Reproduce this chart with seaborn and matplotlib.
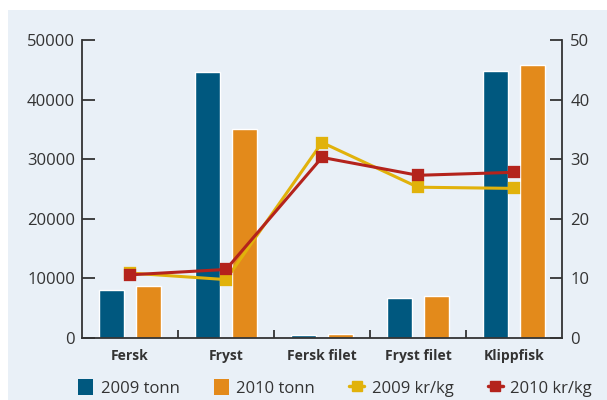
import matplotlib
matplotlib.use("Agg")
import matplotlib.pyplot as plt
from matplotlib.patches import Rectangle, Patch
from matplotlib.lines import Line2D
import seaborn as sns
import pandas as pd
import numpy as np

categories = ["Fersk", "Fryst", "Fersk filet", "Fryst filet", "Klippfisk"]
tonn_2009 = [8100, 44600, 500, 6700, 44800]
tonn_2010 = [8800, 35100, 700, 7100, 45800]
krkg_2009 = [10.9, 9.8, 32.8, 25.3, 25.1]
krkg_2010 = [10.6, 11.5, 30.3, 27.3, 27.8]
left_ticks = [0, 10000, 20000, 30000, 40000, 50000]
right_ticks = [0, 10, 20, 30, 40, 50]
series_labels = ["2009 tonn", "2010 tonn", "2009 kr/kg", "2010 kr/kg"]

BLUE = "#00587f"
ORANGE = "#e38a1b"
YELLOW = "#e1b20b"
RED = "#b4231c"
BG = "#e9f0f7"
TXT = "#333333"

sns.set_theme(style="white")
plt.rcParams["font.family"] = ["Open Sans", "DejaVu Sans"]
plt.rcParams["text.color"] = TXT
plt.rcParams["xtick.color"] = TXT
plt.rcParams["ytick.color"] = TXT

W, H = 607, 400
fig = plt.figure(figsize=(W / 100, H / 100), dpi=100, facecolor="white")
fig.patches.append(Rectangle((8 / W, 0), 1 - 8 / W, 1 - 10 / H, transform=fig.transFigure,
                             facecolor=BG, edgecolor="none", zorder=-10))

ax = fig.add_axes([82 / W, 1 - 338 / H, (562 - 82) / W, (338 - 40) / H])
ax.set_facecolor("none")

bars = pd.DataFrame({
    "cat": categories * 2,
    "val": tonn_2009 + tonn_2010,
    "serie": [series_labels[0]] * 5 + [series_labels[1]] * 5,
})
sns.barplot(data=bars, x="cat", y="val", hue="serie", order=categories,
            hue_order=series_labels[:2], palette=[BLUE, ORANGE], width=0.78, gap=0.34,
            saturation=1, errorbar=None, legend=False, ax=ax)

ax2 = ax.twinx()
prices = pd.DataFrame({
    "cat": categories * 2,
    "val": krkg_2009 + krkg_2010,
    "serie": [series_labels[2]] * 5 + [series_labels[3]] * 5,
})
sns.pointplot(data=prices, x="cat", y="val", hue="serie", order=categories,
              hue_order=series_labels[2:], palette=[YELLOW, RED], markers="s",
              linestyles="-", errorbar=None, dodge=False, legend=False,
              markersize=7, linewidth=2.2, ax=ax2)

for a in (ax, ax2):
    a.set_xlim(-0.5, 4.5)
    a.set_xlabel("")
    a.set_ylabel("")
    for s in a.spines.values():
        s.set_visible(False)

ax.set_ylim(0, 50000)
ax2.set_ylim(0, 50)
ax.set_yticks(left_ticks)
ax.set_yticklabels([str(t) for t in left_ticks], fontsize=12)
ax2.set_yticks(right_ticks)
ax2.set_yticklabels([str(t) for t in right_ticks], fontsize=12)

for s in ("left", "bottom"):
    ax.spines[s].set_visible(True)
    ax.spines[s].set_color(TXT)
    ax.spines[s].set_linewidth(1.3)
ax2.spines["right"].set_visible(True)
ax2.spines["right"].set_color(TXT)
ax2.spines["right"].set_linewidth(1.3)

ax.tick_params(axis="y", direction="in", length=9, width=1.3, pad=5, left=True)
ax2.tick_params(axis="y", direction="in", length=9, width=1.3, pad=6, right=True)

ax.set_xticks(range(len(categories)))
ax.set_xticklabels(categories, fontsize=10, fontweight="bold")
ax.tick_params(axis="x", which="major", length=0, pad=8)
ax.set_xticks(np.arange(0.5, len(categories) - 1, 1.0), minor=True)
ax.tick_params(axis="x", which="minor", direction="in", length=6, width=1.3, bottom=True)
ax2.tick_params(axis="x", length=0)

handles = [
    Patch(facecolor=BLUE, edgecolor="none"),
    Patch(facecolor=ORANGE, edgecolor="none"),
    Line2D([0], [0], color=YELLOW, lw=2.5, marker="s", markersize=6.5),
    Line2D([0], [0], color=RED, lw=2.5, marker="s", markersize=6.5),
]
fig.legend(handles, series_labels, loc="center", bbox_to_anchor=(0.552, 1 - 388 / H),
           ncol=4, frameon=False, fontsize=12, handlelength=0.9, handleheight=1.1,
           handletextpad=0.45, columnspacing=2.05)

fig.savefig("out.png", dpi=100, facecolor="white")
